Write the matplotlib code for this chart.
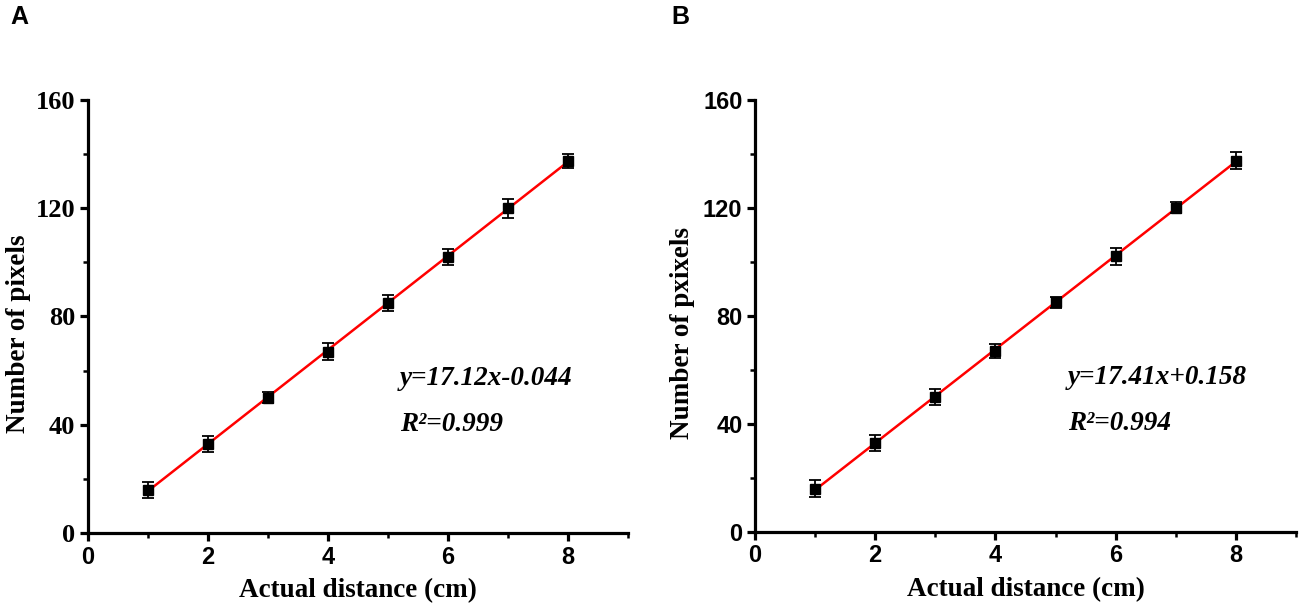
import matplotlib.pyplot as plt
from matplotlib.ticker import MultipleLocator
import numpy as np

distance = [1, 2, 3, 4, 5, 6, 7, 8]

pixels_a = [16, 33, 50, 67, 85, 102, 120, 137.5]
err_a = [3, 3, 2, 3, 3, 3, 3.5, 2.5]

pixels_b = [16, 33, 50, 67, 85, 102, 120, 137.5]
err_b = [3, 3, 3, 2.5, 2, 3, 2, 3]

serif = 'Liberation Serif'
sans = 'Liberation Sans'

fig = plt.figure(figsize=(12.99, 6.05), dpi=100)
ax_a = fig.add_axes([0.0677, 0.119, 0.4157, 0.716])
ax_b = fig.add_axes([0.5812, 0.121, 0.4165, 0.714])


def draw(ax, y, err, eq, r2, ylabel, ytick_font):
    x = np.array(distance)
    ax.errorbar(x, y, yerr=err, fmt='s', color='black', ms=7,
                capsize=4.5, elinewidth=1.3, capthick=1.3, zorder=3)
    # fitted line through the points
    k, b = np.polyfit(x, y, 1)
    xf = np.array([x[0], x[-1]])
    ax.plot(xf, k * xf + b, color='red', lw=1.8, zorder=2)

    ax.set_xlim(0, 9)
    ax.set_ylim(0, 160)
    ax.xaxis.set_major_locator(MultipleLocator(2))
    ax.xaxis.set_minor_locator(MultipleLocator(1))
    ax.yaxis.set_major_locator(MultipleLocator(40))
    ax.yaxis.set_minor_locator(MultipleLocator(20))
    for s in ['top', 'right']:
        ax.spines[s].set_visible(False)
    for s in ['left', 'bottom']:
        ax.spines[s].set_linewidth(2.3)
    ax.tick_params(which='major', direction='out', length=6, width=2.3, pad=3)
    ax.tick_params(which='minor', direction='out', length=3.5, width=1.8)

    for lab in ax.get_xticklabels():
        lab.set_fontfamily(sans)
        lab.set_fontweight('bold')
        lab.set_fontsize(17)
    for lab in ax.get_yticklabels():
        lab.set_fontfamily(ytick_font)
        lab.set_fontweight('bold')
        lab.set_fontsize(19 if ytick_font == serif else 17)

    ax.set_xlabel('Actual distance (cm)', fontfamily=serif, fontweight='bold',
                  fontsize=19.5, labelpad=7)
    ax.set_ylabel(ylabel, fontfamily=serif, fontweight='bold', fontsize=19.5)
    ax.text(5.2, 57, eq, fontfamily=serif, fontweight='bold', style='italic',
            fontsize=19.5, va='center')
    ax.text(5.2, 40, r2, fontfamily=serif, fontweight='bold', style='italic',
            fontsize=19.5, va='center')


draw(ax_a, pixels_a, err_a, 'y=17.12x-0.044', 'R²=0.999', 'Number of pixels', serif)
draw(ax_b, pixels_b, err_b, 'y=17.41x+0.158', 'R²=0.994', 'Number of pxixels', sans)

# y labels sit a little below the axis centre, as in the original
ax_a.yaxis.set_label_coords(-0.106, 0.46)
ax_b.yaxis.set_label_coords(-0.110, 0.46)

fig.text(0.008, 0.972, 'A', fontfamily=sans, fontweight='bold', fontsize=18, va='center')
fig.text(0.517, 0.972, 'B', fontfamily=sans, fontweight='bold', fontsize=18, va='center')

fig.savefig('out.png', dpi=100)
